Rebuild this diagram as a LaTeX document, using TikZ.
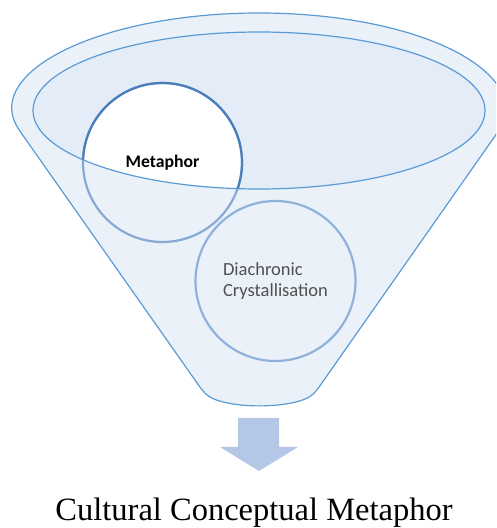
\documentclass[tikz,border=0pt]{standalone}
\usepackage{fontspec}
\newfontfamily\calib{Carlito}
\newfontfamily\serifcap{Liberation Serif}
\definecolor{funnelline}{RGB}{91,155,213}
\definecolor{funnelfill}{RGB}{235,241,249}
\definecolor{innerfill}{RGB}{228,236,247}
\definecolor{metdark}{RGB}{74,126,187}
\definecolor{metlight}{RGB}{135,170,212}
\definecolor{diaring}{RGB}{143,178,218}
\definecolor{arrowfill}{RGB}{180,199,231}
\definecolor{diatext}{RGB}{80,80,80}
\tikzset{
  funnelstroke/.style={draw=funnelline, line width=1.2pt},
  ringstroke/.style={line width=2.2pt},
  bigcircle/.style={circle, inner sep=0pt, minimum size=159pt},
}
\begin{document}
\begin{tikzpicture}[x=1pt,y=1pt]
\useasboundingbox (0,0) rectangle (496,528);
\clip (0,0) rectangle (496,528);
% funnel body
\path[fill=funnelfill, funnelstroke, rounded corners=5pt]
  (17,401) arc[start angle=190.1, end angle=-10.1, x radius=246pt, y radius=97pt]
  -- (317,138) .. controls (298,118) and (221,118) .. (202,138) -- cycle;
% inner ellipse fill
\fill[innerfill] (259,417.5) ellipse[x radius=226pt, y radius=78.5pt];
\coordinate (metc) at (162.5,365.5);
\begin{scope}
  \clip (259,417.5) ellipse[x radius=226pt, y radius=78.5pt];
  \fill[white] (metc) circle[radius=79.5pt];
\end{scope}
\draw[funnelstroke] (259,417.5) ellipse[x radius=226pt, y radius=78.5pt];
% Metaphor circle
\node[bigcircle, draw=metlight, ringstroke, font=\calib\bfseries\fontsize{17.7}{20}\selectfont] (met) at (metc) {Metaphor};
\begin{scope}
  \clip (259,417.5) ellipse[x radius=226pt, y radius=78.5pt];
  \draw[metdark, ringstroke] (met.center) circle[radius=79.5pt];
\end{scope}
% Diachronic circle
\node[circle, inner sep=0pt, minimum size=160pt, draw=diaring, ringstroke,
      align=left, text=diatext, font=\calib\fontsize{18.5}{20.5}\selectfont] (dia) at (275.5,247)
  {Diachronic\\Crystallisation};
% arrow
\fill[arrowfill] (238,110) -- (279,110) -- (279,81) -- (298,81) -- (259,57)
  -- (220,81) -- (238,81) -- cycle;
% caption
\node[anchor=base, font=\serifcap\fontsize{32.5}{36}\selectfont, inner sep=0pt] (cap) at (254,7)
  {Cultural Conceptual Metaphor};
\end{tikzpicture}
\end{document}
